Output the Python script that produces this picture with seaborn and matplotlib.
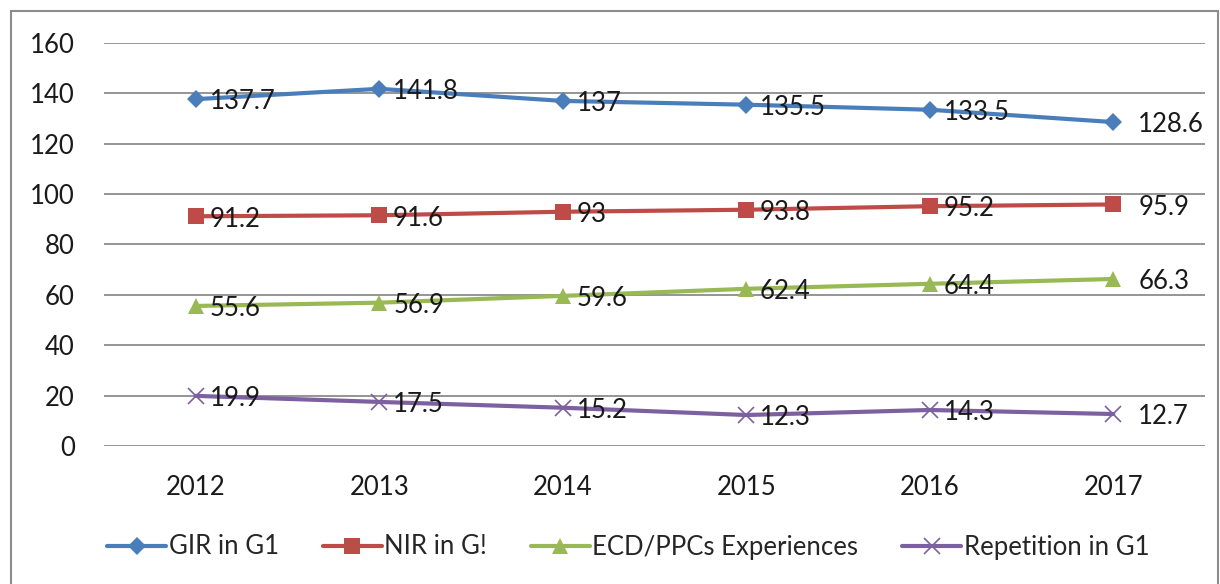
import pandas as pd
import matplotlib
matplotlib.use("Agg")
import matplotlib.pyplot as plt
import seaborn as sns
from matplotlib.patches import Rectangle

years = ["2012", "2013", "2014", "2015", "2016", "2017"]
gir_g1 = [137.7, 141.8, 137, 135.5, 133.5, 128.6]
nir_g1 = [91.2, 91.6, 93, 93.8, 95.2, 95.9]
ecd_ppc = [55.6, 56.9, 59.6, 62.4, 64.4, 66.3]
repetition_g1 = [19.9, 17.5, 15.2, 12.3, 14.3, 12.7]

series_names = ["GIR in G1", "NIR in G!", "ECD/PPCs Experiences", "Repetition in G1"]
series_values = [gir_g1, nir_g1, ecd_ppc, repetition_g1]
colors = ["#4A7EBB", "#BE4B48", "#98B954", "#7D60A0"]
markers = ["D", "s", "^", "x"]
marker_sizes = [9, 11, 11, 11]

sns.set_style("white")
plt.rcParams["font.family"] = ["Lato", "DejaVu Sans"]

fig = plt.figure(figsize=(12.2, 5.84), dpi=100)
ax = fig.add_axes([0.0852, 0.2363, 0.9025, 0.6901])

x = list(range(len(years)))
for name, vals, c, m, ms in zip(series_names, series_values, colors, markers, marker_sizes):
    df = pd.DataFrame({"x": x, "y": vals})
    sns.lineplot(data=df, x="x", y="y", ax=ax, color=c, linewidth=3, marker=m,
                 markersize=ms, markeredgecolor=c, markeredgewidth=1.2 if m == "x" else 0,
                 label=name, zorder=3)
    for xi, v in zip(x, vals):
        dx = 18 if xi == x[-1] else 10
        ax.annotate(f"{v:g}", (xi, v), xytext=(dx, -2), textcoords="offset points",
                    va="center", ha="left", fontsize=18.5, color="#1a1a1a", zorder=4)

ax.set_xlim(-0.5, 5.5)
ax.set_ylim(0, 160)
ax.set_yticks(range(0, 161, 20))
ax.set_xticks(x)
ax.set_xticklabels(years)
ax.set_xlabel("")
ax.set_ylabel("")
ax.grid(axis="y", color="#8c8c8c", linewidth=1.3)
ax.set_axisbelow(True)
for s in ax.spines.values():
    s.set_visible(False)
ax.tick_params(axis="both", length=0, labelsize=18.5, colors="#1a1a1a")
ax.tick_params(axis="x", pad=21)
ax.tick_params(axis="y", pad=21)

ax.get_legend().remove()
handles, labels = ax.get_legend_handles_labels()
fig.legend(handles, labels, loc="center", bbox_to_anchor=(0.515, 1 - 547 / 584), ncol=4,
           frameon=False, fontsize=18.5, handlelength=2.3, handletextpad=0.1,
           columnspacing=1.7)

fig.patches.append(Rectangle((11 / 1220, -0.05), 1207 / 1220, 1.05 - 11 / 584,
                             transform=fig.transFigure, fill=False,
                             edgecolor="#8c8c8c", linewidth=1.5))

fig.savefig("out.png", dpi=100)
